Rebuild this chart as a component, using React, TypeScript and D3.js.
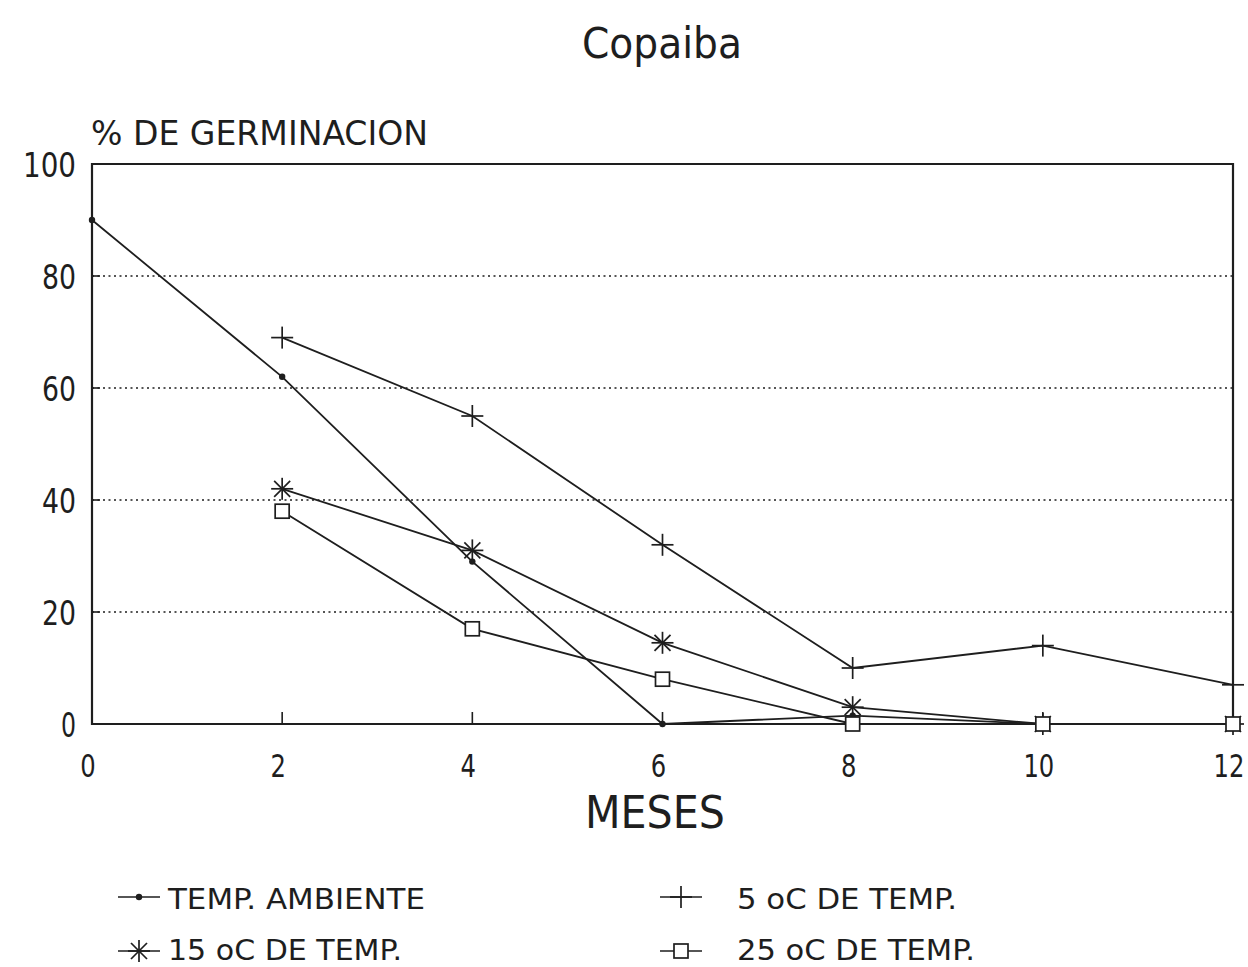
import React from "react";
import * as d3 from "d3";

const months = [0, 2, 4, 6, 8, 10, 12];
const ambiente = [90, 62, 29, 0, 1.5, 0, 0];
const temp5 = [null, 69, 55, 32, 10, 14, 7];
const temp15 = [null, 42, 31, 14.5, 3, 0, 0];
const temp25 = [null, 38, 17, 8, 0, 0, 0];
const yTicks = [0, 20, 40, 60, 80, 100];
const xTicks = [0, 2, 4, 6, 8, 10, 12];

const W = 1248, H = 967;
const FONT = "'DejaVu Sans Condensed', 'DejaVu Sans', sans-serif";
const INK = "#1e1e1e";

function Marker({ kind, x, y }: { kind: string; x: number; y: number }) {
  if (kind === "dot") return <circle cx={x} cy={y} r={3.2} fill={INK} />;
  if (kind === "plus")
    return (
      <g stroke={INK} strokeWidth={1.7}>
        <line x1={x - 11} x2={x + 11} y1={y} y2={y} />
        <line x1={x} x2={x} y1={y - 11} y2={y + 11} />
      </g>
    );
  if (kind === "star")
    return (
      <g stroke={INK} strokeWidth={1.7}>
        <line x1={x - 11} x2={x + 11} y1={y} y2={y} />
        <line x1={x} x2={x} y1={y - 11} y2={y + 11} />
        <line x1={x - 8} x2={x + 8} y1={y - 8} y2={y + 8} />
        <line x1={x - 8} x2={x + 8} y1={y + 8} y2={y - 8} />
      </g>
    );
  return <rect x={x - 7} y={y - 7} width={14} height={14} fill="white" stroke={INK} strokeWidth={1.7} />;
}

export default function App() {
  const x = d3.scaleLinear().domain([0, 12]).range([92, 1233]);
  const y = d3.scaleLinear().domain([0, 100]).range([724, 164]);
  const series = [
    { name: "TEMP. AMBIENTE", values: ambiente, kind: "dot" },
    { name: "5 oC DE TEMP.", values: temp5, kind: "plus" },
    { name: "15 oC DE TEMP.", values: temp15, kind: "star" },
    { name: "25 oC DE TEMP.", values: temp25, kind: "square" },
  ];
  const line = d3
    .line<[number, number | null]>()
    .defined((d) => d[1] !== null)
    .x((d) => x(d[0]))
    .y((d) => y(d[1] as number));

  const legend = [
    { s: series[0], lx: 118, ly: 897, tb: 909, tx: 168, tl: 257 },
    { s: series[1], lx: 660, ly: 897, tb: 909, tx: 737, tl: 220 },
    { s: series[2], lx: 118, ly: 951, tb: 960, tx: 168, tl: 234 },
    { s: series[3], lx: 660, ly: 951, tb: 960, tx: 737, tl: 238 },
  ];

  const ytl = (t: number) => String(t).length * 19 - 4;

  return (
    <svg width={W} height={H} style={{ position: "absolute", left: 0, top: 0, background: "white" }} fontFamily={FONT}>
      <rect width={W} height={H} fill="white" />
      <text x={662} y={58} textAnchor="middle" fontSize={43} fill={INK} textLength={160} lengthAdjust="spacingAndGlyphs">Copaiba</text>
      <text x={91} y={145} fontSize={33} fill={INK} textLength={337} lengthAdjust="spacingAndGlyphs">% DE GERMINACION</text>

      {yTicks.filter((t) => t > 0 && t < 100).map((t) => (
        <line key={t} x1={x(0)} x2={x(12)} y1={y(t)} y2={y(t)} stroke={INK} strokeWidth={1.5} strokeDasharray="2,3.5" />
      ))}
      {yTicks.map((t) => (
        <g key={"yt" + t}>
          <line x1={x(0)} x2={x(0) + 8} y1={y(t)} y2={y(t)} stroke={INK} strokeWidth={1.6} />
          <text x={76} y={y(t) + 13} textAnchor="end" fontSize={33} fill={INK} textLength={ytl(t)} lengthAdjust="spacingAndGlyphs">{t}</text>
        </g>
      ))}
      {xTicks.map((t) => (
        <g key={"xt" + t}>
          <line x1={x(t)} x2={x(t)} y1={y(0)} y2={y(0) - 12} stroke={INK} strokeWidth={1.6} />
          <g transform={`translate(${x(t) - 4},777) scale(1,1.2)`}>
            <text x={0} y={0} textAnchor="middle" fontSize={27} fill={INK}>{t}</text>
          </g>
        </g>
      ))}
      <path d={`M${x(0)},${y(0)} L${x(0)},${y(100)} L${x(12)},${y(100)} L${x(12)},${y(0)} Z`} fill="none" stroke={INK} strokeWidth={2.2} />

      {series.map((s) => (
        <g key={s.name}>
          <path d={line(months.map((m, i) => [m, s.values[i]]) as any) || ""} fill="none" stroke={INK} strokeWidth={1.8} />
          {months.map((m, i) =>
            s.values[i] === null ? null : <Marker key={i} kind={s.kind} x={x(m)} y={y(s.values[i] as number)} />
          )}
        </g>
      ))}

      <text x={655} y={828} textAnchor="middle" fontSize={45} fill={INK} textLength={140} lengthAdjust="spacingAndGlyphs">MESES</text>

      {legend.map(({ s, lx, ly, tb, tx, tl }) => (
        <g key={"lg" + s.name}>
          <line x1={lx} x2={lx + 42} y1={ly} y2={ly} stroke={INK} strokeWidth={1.7} />
          <Marker kind={s.kind} x={lx + 21} y={ly} />
          <text x={tx} y={tb} fontSize={29} fill={INK} textLength={tl} lengthAdjust="spacingAndGlyphs">{s.name}</text>
        </g>
      ))}
    </svg>
  );
}
